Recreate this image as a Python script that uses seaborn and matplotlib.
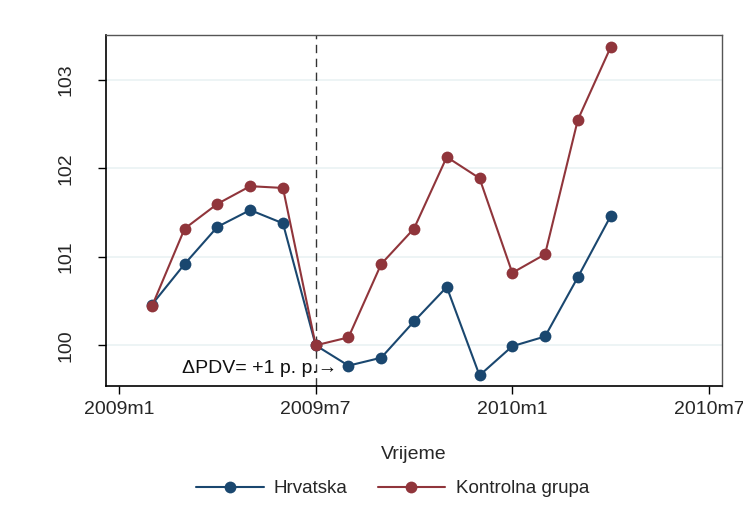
import matplotlib
matplotlib.use("Agg")
import matplotlib.pyplot as plt
import seaborn as sns
import pandas as pd

months = list(range(1, 16))  # 2009m2 .. 2010m4 (0 = 2009m1)
hrvatska = [100.46, 100.92, 101.34, 101.53, 101.38, 100.00, 99.77, 99.86,
            100.27, 100.66, 99.66, 99.99, 100.10, 100.77, 101.46]
kontrolna = [100.44, 101.32, 101.60, 101.80, 101.78, 100.00, 100.09, 100.92,
             101.32, 102.13, 101.89, 100.82, 101.03, 102.55, 103.37]
x_ticks = [0, 6, 12, 18]
x_tick_labels = ["2009m1", "2009m7", "2010m1", "2010m7"]
y_ticks = [100, 101, 102, 103]
series_names = ["Hrvatska", "Kontrolna grupa"]
colors = ["#1a476f", "#90353b"]

df = pd.DataFrame({
    "month": months * 2,
    "value": hrvatska + kontrolna,
    "grupa": [series_names[0]] * len(months) + [series_names[1]] * len(months),
})

sns.set_theme(style="white")
plt.rcParams["font.family"] = ["Liberation Sans", "DejaVu Sans"]
FS = 14

fig = plt.figure(figsize=(7.43, 5.20), dpi=100)
ax = fig.add_axes([0.1427, 0.2577, 0.8290, 0.6750])

for y in y_ticks:
    ax.axhline(y, color="#eaf2f3", lw=1.2, zorder=0)

ax.axvline(6, color="#333333", lw=1.0, ls=(0, (6, 4)), zorder=1)

sns.lineplot(data=df, x="month", y="value", hue="grupa", palette=colors,
             marker="o", markersize=8.5, markeredgewidth=0, lw=1.5, ax=ax,
             zorder=3)

ax.text(6.65, 99.74, "ΔPDV= +1 p. p.→", ha="right", va="center",
        fontsize=FS, color="#111111",
        family=["Liberation Sans", "DejaVu Sans"])

ax.set_xlim(-0.4, 18.4)
ax.set_ylim(99.54, 103.51)
ax.set_xticks(x_ticks)
ax.set_xticklabels(x_tick_labels, fontsize=FS)
ax.set_yticks(y_ticks)
ax.set_yticklabels([str(v) for v in y_ticks], fontsize=FS, rotation=90,
                   va="center")
ax.tick_params(axis="both", which="both", direction="out", length=6,
               width=1, color="black", bottom=True, left=True)
ax.tick_params(axis="x", pad=5)
ax.tick_params(axis="y", pad=23)
for lbl in ax.get_yticklabels():
    lbl.set_horizontalalignment("center")
ax.set_xlabel("Vrijeme", fontsize=FS, labelpad=20)
ax.set_ylabel("")

for side in ["left", "bottom"]:
    ax.spines[side].set_color("black")
    ax.spines[side].set_linewidth(1.2)
for side in ["top", "right"]:
    ax.spines[side].set_color("#555555")
    ax.spines[side].set_linewidth(1.0)

handles, labels = ax.get_legend_handles_labels()
ax.legend(handles, labels, loc="upper center", bbox_to_anchor=(0.465, -0.22),
          ncol=2, frameon=False, fontsize=13.5, handlelength=3.6,
          columnspacing=1.6, handletextpad=0.55)

fig.savefig("out.png", dpi=100)
